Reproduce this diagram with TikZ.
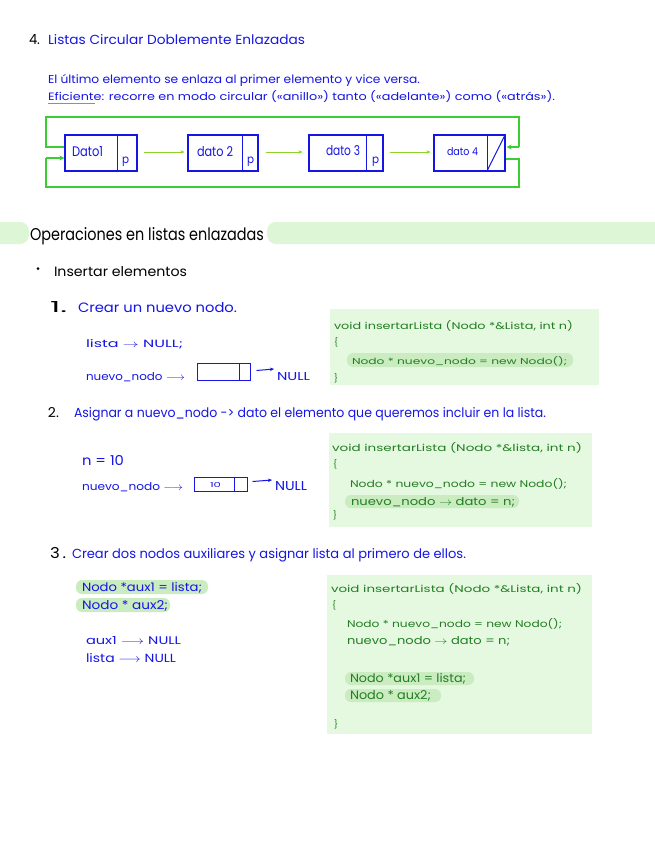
\documentclass[tikz,border=0pt]{standalone}
\usepackage{fontspec}
\setmainfont{Poppins}
\usepackage{graphicx}
\usetikzlibrary{arrows.meta}
\definecolor{inkblue}{RGB}{22,22,228}
\definecolor{codegreen}{RGB}{35,125,35}
\definecolor{codebg}{RGB}{229,249,224}
\definecolor{pillbg}{RGB}{202,236,192}
\definecolor{bandbg}{RGB}{221,247,214}
\definecolor{loopgreen}{RGB}{60,205,50}
\definecolor{limegreen}{RGB}{145,210,40}
\newcommand{\hw}[3]{\resizebox{#1pt}{#2pt}{#3}}
\begin{document}
\begin{tikzpicture}[x=1pt,y=-1pt,
  txt/.style={anchor=base west, inner sep=0pt, outer sep=0pt},
  blue/.style={txt, text=inkblue},
  blk/.style={txt, text=black},
  code/.style={txt, text=codegreen},
  lbox/.style={draw=inkblue, line width=1.1pt, inner sep=0pt, minimum width=71pt, minimum height=36pt},
  sbox/.style={draw=inkblue, line width=1pt, inner sep=0pt},
  divline/.style={draw=inkblue, line width=1pt},
  loopline/.style={draw=loopgreen, line width=1.2pt},
  looparrow/.style={loopline, -{Stealth[length=5pt,width=5pt]}},
  nextarrow/.style={draw=limegreen, line width=1pt, -{Stealth[length=4pt,width=3.5pt]}},
  nullarrow/.style={draw=inkblue, line width=1pt, -{Stealth[length=4pt,width=3.5pt]}},
  codebox/.style={fill=codebg},
  pill/.style={fill=pillbg, rounded corners=6pt}
]
\useasboundingbox (0,0) rectangle (655,848);
\fill[white] (0,0) rectangle (655,848);

% ---------- Title ----------
\node[blk] (t4) at (29,45) {\hw{11}{10}{4.}};
\node[blue] (title) at (48,45) {\hw{257}{10}{Listas Circular Doblemente Enlazadas}};
\node[blue] (l1) at (48,84) {\hw{372}{9}{El último elemento se enlaza al primer elemento y vice versa.}};
\node[blue] (l2) at (48,101) {\hw{507}{10}{Eficiente: recorre en modo circular («anillo») tanto («adelante») como («atrás»).}};
\draw[loopgreen, line width=1pt] (48,103.5) -- (95,103.5);

% ---------- Circular list ----------
\node[lbox, minimum width=72pt] (d1) at (101,153) {};
\node[lbox, minimum width=70pt] (d2) at (223,153) {};
\node[lbox, minimum width=74pt] (d3) at (346,153) {};
\node[lbox, minimum width=71pt] (d4) at (469.5,153) {};
\draw[divline] (117,135) -- (117,171);
\draw[divline] (242,135) -- (242,171);
\draw[divline] (366,135) -- (366,171);
\draw[divline] (487,135) -- (487,171);
\draw[divline] (487,171) -- (505,135);
\node[blue] (tx1) at (72,157) {\hw{31}{10}{Dato1}};
\node[blue] (p1) at (122,164) {\hw{7}{6.5}{p}};
\node[blue] (tx2) at (197,156) {\hw{36}{10}{dato 2}};
\node[blue] (p2) at (247,164) {\hw{7}{6.5}{p}};
\node[blue] (tx3) at (326,155) {\hw{34}{10}{dato 3}};
\node[blue] (p3) at (372,164) {\hw{7}{6.5}{p}};
\node[blue] (tx4) at (447,155) {\hw{31}{8}{dato 4}};
\draw[nextarrow] ([xshift=6pt,yshift=1pt]d1.east) -- ([xshift=-3pt,yshift=1pt]d2.west);
\draw[nextarrow] ([xshift=7pt,yshift=1pt]d2.east) -- ([xshift=-6pt,yshift=1pt]d3.west);
\draw[nextarrow] ([xshift=6pt,yshift=1pt]d3.east) -- ([xshift=-3pt,yshift=1pt]d4.west);
\coordinate (lt) at (46,117);
\coordinate (rt) at (519,117);
\coordinate (lu) at (46,147);
\coordinate (ru) at (519,147);
\coordinate (rl) at (519,159);
\coordinate (rb) at (519,187);
\coordinate (lb) at (46,187);
\coordinate (ll) at (46,158);
\draw[loopline] ([yshift=6pt]d1.west) -- (lu) -- (lt) -- (rt) -- (ru);
\draw[looparrow] (ru) -- ([xshift=1pt,yshift=6pt]d4.east);
\draw[loopline] ([yshift=-6pt]d4.east) -- (rl) -- (rb) -- (lb) -- (ll);
\draw[looparrow] (ll) -- ([yshift=-5pt]d1.west);

% ---------- Header band ----------
\fill[bandbg, rounded corners=9pt] (-20,222) rectangle (29,244);
\fill[bandbg, rounded corners=9pt] (267,222) rectangle (680,244);
\node[blk] (hdr) at (30,240) {\hw{234}{13}{Operaciones en listas enlazadas}};

\fill[black] (38,268.5) circle (1.5pt);
\node[blk] (ins) at (54,276) {\hw{133}{10}{Insertar elementos}};

% ---------- Step 1 ----------
\node[blk] (n1) at (50,312) {\hw{17}{11}{1.}};
\node[blue] (s1) at (78,312) {\hw{159}{10}{Crear un nuevo nodo.}};
\node[blue] (a1) at (86,347) {\hw{97}{8}{lista $\rightarrow$ NULL;}};
\node[blue] (a2) at (86,380) {\hw{99}{8}{nuevo\_nodo $\longrightarrow$}};
\node[sbox, minimum width=53pt, minimum height=17pt] (b1) at (223.5,371.5) {};
\draw[divline] (239,363) -- (239,380);
\node[blue] (null1) at (277,380) {\hw{33}{8}{NULL}};
\draw[nullarrow] ([xshift=6pt,yshift=1pt]b1.east) -- ([xshift=-3pt,yshift=3pt]null1.north west);

\fill[codebox] (330,309) rectangle (599,385);
\node[code] (c1a) at (334,329) {\hw{239}{9}{void insertarLista (Nodo *\&Lista, int n)}};
\node[code] (c1b) at (334,345) {\hw{4}{8}{\{}};
\fill[pill] (347,353) rectangle (573,367);
\node[code] (c1c) at (352,364) {\hw{215}{8}{Nodo * nuevo\_nodo = new Nodo();}};
\node[code] (c1d) at (334,381) {\hw{4}{8}{\}}};

% ---------- Step 2 ----------
\node[blk] (n2) at (48,417) {\hw{11}{10}{2.}};
\node[blue] (s2) at (74,417) {\hw{472}{10}{Asignar a nuevo\_nodo -> dato el elemento que queremos incluir en la lista.}};
\node[blue] (a3) at (82,465) {\hw{42}{10}{n = 10}};
\node[blue] (a4) at (82,490) {\hw{101}{8}{nuevo\_nodo $\longrightarrow$}};
\node[sbox, minimum width=53pt, minimum height=14pt] (b2) at (220.5,484.5) {};
\draw[divline] (234,477.5) -- (234,491.5);
\node[blue] (ten) at (210,487) {\hw{11}{5}{10}};
\node[blue] (null2) at (275,490) {\hw{32}{9}{NULL}};
\draw[nullarrow] ([xshift=5pt,yshift=3pt]b2.east) -- ([xshift=-3pt,yshift=1pt]null2.north west);

\fill[codebox] (329,433) rectangle (592,527);
\node[code] (c2a) at (332,451) {\hw{250}{9}{void insertarLista (Nodo *\&lista, int n)}};
\node[code] (c2b) at (333,467) {\hw{4}{8}{\{}};
\node[code] (c2c) at (350,487) {\hw{217}{9}{Nodo * nuevo\_nodo = new Nodo();}};
\fill[pill] (345,495) rectangle (519,508);
\node[code] (c2d) at (351,505) {\hw{164}{8}{nuevo\_nodo $\rightarrow$ dato = n;}};
\node[code] (c2e) at (333,518) {\hw{4}{8}{\}}};

% ---------- Step 3 ----------
\node[blk] (n3) at (50,558) {\hw{16}{11}{3\,.}};
\node[blue] (s3) at (72,558) {\hw{394}{10}{Crear dos nodos auxiliares y asignar lista al primero de ellos.}};
\fill[pill] (76,580) rectangle (208,594);
\node[blue] (x1) at (82,591) {\hw{120}{9}{Nodo *aux1 = lista;}};
\fill[pill] (76,598) rectangle (170,612);
\node[blue] (x2) at (82,609) {\hw{86}{9}{Nodo * aux2;}};
\node[blue] (x3) at (86,644) {\hw{95}{8}{aux1 $\longrightarrow$ NULL}};
\node[blue] (x4) at (86,662) {\hw{90}{9}{lista $\longrightarrow$ NULL}};

\fill[codebox] (327,575) rectangle (592,734);
\node[code] (c3a) at (331,592) {\hw{251}{9}{void insertarLista (Nodo *\&Lista, int n)}};
\node[code] (c3b) at (332,608) {\hw{4}{8}{\{}};
\node[code] (c3c) at (347,627) {\hw{215}{9}{Nodo * nuevo\_nodo = new Nodo();}};
\node[code] (c3d) at (347,644) {\hw{163}{8}{nuevo\_nodo $\rightarrow$ dato = n;}};
\fill[pill] (345,672) rectangle (474,685);
\node[code] (c3e) at (350,682) {\hw{116}{9}{Nodo *aux1 = lista;}};
\fill[pill] (345,689) rectangle (441,702);
\node[code] (c3f) at (350,699) {\hw{81}{9}{Nodo * aux2;}};
\node[code] (c3g) at (334,727) {\hw{4}{8}{\}}};
\end{tikzpicture}
\end{document}
